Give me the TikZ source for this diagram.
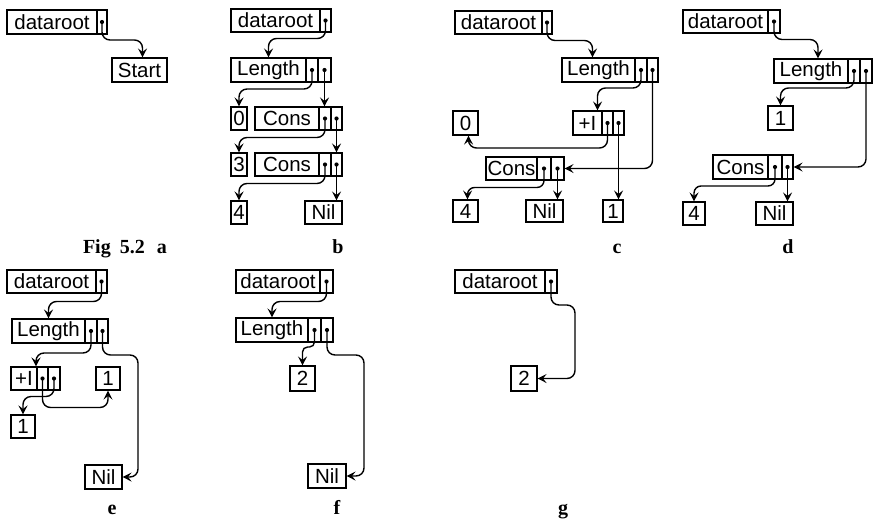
\documentclass[tikz,border=0pt]{standalone}
\usepackage{fontspec}
\usetikzlibrary{arrows.meta}
\newfontfamily\hv{Liberation Sans}
\newfontfamily\tmr{Liberation Serif}
\tikzset{
 box/.style={draw, line width=1.1pt, inner sep=0pt, font=\hv\fontsize{20.5}{20.5}\selectfont},
 ptr/.style={line width=1.4pt, rounded corners=8pt, -{Stealth[length=9pt,width=9pt,inset=3.5pt]}},
 lab/.style={font=\tmr\bfseries\fontsize{20}{20}\selectfont, inner sep=0pt},
}
\newcommand\bx[6]{\node[box, minimum width={#3-#2}, minimum height={#5-#4}] (#1) at ({(#2+#3)/2},{(#4+#5)/2}) {#6};}
\newcommand\pc[5]{\node[box, minimum width={#3-#2}, minimum height={#5-#4}] (#1) at ({(#2+#3)/2},{(#4+#5)/2}) {}; \fill (#1.center) circle (2.1pt);}
\begin{document}
\begin{tikzpicture}[x=1pt,y=-1pt]
\useasboundingbox (0,0) rectangle (874,520);
% ---------- a
\bx{aDR}{7}{97}{10}{34}{dataroot}\pc{aDRp}{97}{107}{10}{34}
\bx{aST}{112}{167}{58}{82}{Start}
\draw[ptr] (aDRp.center) -- ++(0,18) -| ([xshift=3pt]aST.north);
% ---------- b
\bx{bDR}{231}{320}{9}{32}{dataroot}\pc{bDRp}{320}{331}{9}{32}
\bx{bLN}{231}{306}{58}{82}{Length}\pc{bLNp}{306}{318}{58}{82}\pc{bLNq}{318}{331}{58}{82}
\bx{bZ}{231}{247}{107}{130}{0}
\bx{bC1}{255}{319}{107}{130}{Cons}\pc{bC1p}{319}{331}{107}{130}\pc{bC1q}{331}{342}{107}{130}
\bx{bT}{231}{247}{153}{176}{3}
\bx{bC2}{255}{319}{153}{176}{Cons}\pc{bC2p}{319}{331}{153}{176}\pc{bC2q}{331}{342}{153}{176}
\bx{bF}{231}{247}{201}{224}{4}
\bx{bN}{305}{342}{201}{224}{Nil}
\draw[ptr] (bDRp.center) -- ++(0,18) -| (bLN.north);
\draw[ptr] (bLNp.center) -- ++(0,19) -| (bZ.north);
\draw[ptr] (bLNq.center) -- (bLNq.center |- bC1p.north);
\draw[ptr] (bC1p.center) -- ++(0,19) -| (bT.north);
\draw[ptr] (bC1q.center) -- (bC1q.center |- bC2q.north);
\draw[ptr] (bC2p.center) -- ++(0,19) -| (bF.north);
\draw[ptr] (bC2q.center) -- (bC2q.center |- bN.north);
% ---------- c
\bx{cDR}{455}{542}{11}{34}{dataroot}\pc{cDRp}{542}{552}{11}{34}
\bx{cLN}{562}{635}{58}{82}{Length}\pc{cLNp}{635}{647}{58}{82}\pc{cLNq}{647}{658}{58}{82}
\bx{cZ}{453}{478}{111}{135}{0}
\bx{cPI}{573}{602}{111}{135}{+I}\pc{cPIp}{602}{613}{111}{135}\pc{cPIq}{613}{624}{111}{135}
\bx{cCN}{486}{537}{157}{180}{Cons}\pc{cCNp}{537}{551}{157}{180}\pc{cCNq}{551}{564}{157}{180}
\bx{cF}{453}{478}{200}{222}{4}
\bx{cN}{526}{563}{200}{222}{Nil}
\bx{cONE}{603}{623}{200}{222}{1}
\draw[ptr] (cDRp.center) -- ++(0,18) -| ([xshift=-6pt]cLN.north);
\draw[ptr] (cLNp.center) -- ++(0,18) -| ([xshift=10pt]cPI.north);
\draw[ptr] (cLNq.center) |- (cCNq.east);
\draw[ptr] (cPIp.center) -- ++(0,25) -| ([xshift=3pt]cZ.south);
\draw[ptr] (cPIq.center) -- (cPIq.center |- cONE.north);
\draw[ptr, rounded corners=7pt] (cCNp.center) -- ++(0,19) -| ([xshift=2pt]cF.north);
\draw[ptr] (cCNq.center) -- (cCNq.center |- cN.north);
% ---------- d
\bx{dDR}{683}{768}{10}{33}{dataroot}\pc{dDRp}{768}{780}{10}{33}
\bx{dLN}{774}{848}{59}{83}{Length}\pc{dLNp}{848}{860}{59}{83}\pc{dLNq}{860}{872}{59}{83}
\bx{dONE}{768}{793}{106}{130}{1}
\bx{dCN}{713}{768}{155}{179}{Cons}\pc{dCNp}{768}{782}{155}{179}\pc{dCNq}{782}{793}{155}{179}
\bx{dF}{683}{705}{202}{225}{4}
\bx{dN}{756}{793}{202}{225}{Nil}
\draw[ptr] (dDRp.center) -- ++(0,18) -| ([xshift=7pt]dLN.north);
\draw[ptr] (dLNp.center) -- ++(0,17) -| (dONE.north);
\draw[ptr] (dLNq.center) |- (dCNq.east);
\draw[ptr, rounded corners=7pt] (dCNp.center) -- ++(0,19) -| (dF.north);
\draw[ptr] (dCNq.center) -- (dCNq.center |- dN.north);
% ---------- e
\bx{eDR}{7}{96}{270}{293}{dataroot}\pc{eDRp}{96}{107}{270}{293}
\bx{eLN}{12}{85}{319}{343}{Length}\pc{eLNp}{85}{97}{319}{343}\pc{eLNq}{97}{108}{319}{343}
\bx{ePI}{11}{37}{367}{390}{+I}\pc{ePIp}{37}{48}{367}{390}\pc{ePIq}{48}{60}{367}{390}
\bx{eONEa}{96}{120}{367}{390}{1}
\bx{eONEb}{11}{35}{415}{438}{1}
\bx{eN}{85}{122}{465}{489}{Nil}
\draw[ptr] (eDRp.center) -- ++(0,20) -| (eLN.north);
\draw[ptr] (eLNp.center) -- ++(0,22) -| ([xshift=12pt]ePI.north);
\draw[ptr] (eLNq.center) |- (138,355) |- (eN.east);
\draw[ptr] (ePIp.center) -- ++(0,29) -| (eONEa.south);
\draw[ptr] (ePIq.center) -- ++(0,18) -| (eONEb.north);
% ---------- f
\bx{fDR}{236}{320}{270}{293}{dataroot}\pc{fDRp}{320}{333}{270}{293}
\bx{fLN}{236}{308}{318}{342}{Length}\pc{fLNp}{308}{321}{318}{342}\pc{fLNq}{321}{333}{318}{342}
\bx{fTW}{290}{315}{366}{391}{2}
\bx{fN}{308}{346}{464}{488}{Nil}
\draw[ptr] (fDRp.center) -- ++(0,20) -| (fLN.north);
\draw[ptr, rounded corners=5pt] (fLNp.center) -- ++(0,17) -| (fTW.north);
\draw[ptr] (fLNq.center) |- (364,355) |- (fN.east);
% ---------- g
\bx{gDR}{455}{545}{270}{293}{dataroot}\pc{gDRp}{545}{557}{270}{293}
\bx{gTW}{511}{537}{366}{391}{2}
\draw[ptr] (gDRp.center) |- (575,305) |- (gTW.east);
% ---------- labels
\node[lab, anchor=base east] (la) at (167,253) {Fig\hspace{0.45em}5.2\hspace{0.6em}a};
\node[lab, anchor=base] (lb) at (338,253) {b};
\node[lab, anchor=base] (lc) at (617,253) {c};
\node[lab, anchor=base] (ld) at (788,253) {d};
\node[lab, anchor=base] (le) at (112,514) {e};
\node[lab, anchor=base] (lf) at (337,514) {f};
\node[lab, anchor=base] (lg) at (563,514) {g};
\end{tikzpicture}
\end{document}
